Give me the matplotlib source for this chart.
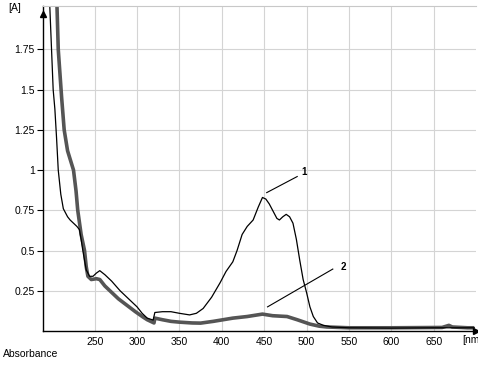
import matplotlib.pyplot as plt

# spectrum 1 (thin line)
wl1 = [192, 197, 201, 203, 205, 207, 210, 213, 218, 221, 225, 229, 232, 234, 236, 240, 244,
       248, 252, 256, 262, 270, 280, 290, 300, 306, 312, 319, 321, 330, 340, 350, 362, 370,
       378, 388, 398, 405, 413, 418, 424, 430, 437, 443, 448, 452, 456, 460, 465, 468, 472,
       476, 480, 484, 488, 492, 496, 500, 504, 508, 513, 520, 530, 550, 600, 650, 698]
abs1 = [2.4, 2.02, 1.5, 1.38, 1.2, 1.0, 0.85, 0.76, 0.71, 0.69, 0.67, 0.65, 0.63, 0.57, 0.5,
        0.38, 0.34, 0.34, 0.36, 0.375, 0.35, 0.31, 0.25, 0.2, 0.15, 0.11, 0.08, 0.068, 0.115,
        0.12, 0.12, 0.11, 0.1, 0.11, 0.14, 0.21, 0.3, 0.37, 0.43, 0.5, 0.6, 0.65, 0.69, 0.77,
        0.83, 0.82, 0.79, 0.75, 0.7, 0.69, 0.71, 0.725, 0.71, 0.67, 0.57, 0.44, 0.32, 0.24,
        0.15, 0.09, 0.05, 0.035, 0.025, 0.02, 0.018, 0.02, 0.02]

# spectrum 2 (thick line)
wl2 = [203, 205.5, 207, 209, 211, 214, 218, 225, 228, 230, 234, 238, 240, 242, 246, 252, 256,
       262, 268, 278, 288, 298, 307, 312, 318, 320, 321, 330, 340, 350, 365, 375, 390, 413,
       430, 448, 460, 477, 489, 504, 515, 524, 550, 600, 660, 668, 672, 690, 698]
abs2 = [2.6, 2.02, 1.75, 1.6, 1.45, 1.25, 1.12, 1.0, 0.87, 0.75, 0.6, 0.5, 0.4, 0.34, 0.32,
        0.325, 0.32, 0.28, 0.25, 0.2, 0.16, 0.12, 0.087, 0.07, 0.055, 0.05, 0.08, 0.07, 0.06,
        0.055, 0.05, 0.049, 0.06, 0.08, 0.09, 0.105, 0.095, 0.09, 0.07, 0.043, 0.03, 0.025,
        0.02, 0.02, 0.022, 0.035, 0.025, 0.02, 0.02]

xticks = [250, 300, 350, 400, 450, 500, 550, 600, 650]
yticks = [0.25, 0.5, 0.75, 1, 1.25, 1.5, 1.75]
ytick_labels = ['0.25', '0.5', '0.75', '1', '1.25', '1.5', '1.75']

# curve labels: text, text position, line start, line end
labels = ['1', '2']
label_pos = [(494, 0.99), (540, 0.40)]
line_start = [(489, 0.96), (531, 0.385)]
line_end = [(453, 0.86), (454, 0.15)]

plt.rcParams['font.family'] = ['Liberation Sans', 'DejaVu Sans']

fig = plt.figure(figsize=(4.78, 3.65), dpi=100)
ax = fig.add_axes([43 / 478, 34 / 365, 433 / 478, 325 / 365])

ax.plot(wl2, abs2, color='#555555', lw=2.6, solid_capstyle='butt')
ax.plot(wl1, abs1, color='black', lw=0.9)

for t, p, s, e in zip(labels, label_pos, line_start, line_end):
    ax.plot([s[0], e[0]], [s[1], e[1]], color='black', lw=0.8)
    ax.text(p[0], p[1], t, fontsize=7, fontweight='bold', ha='left', va='center')

ax.set_xlim(189, 700)
ax.set_ylim(0, 2.02)
ax.set_xticks(xticks)
ax.set_yticks(yticks)
ax.set_yticklabels(ytick_labels)
ax.grid(True, color='#d4d4d4', lw=0.8)
ax.set_axisbelow(True)

ax.tick_params(axis='y', length=4, width=0.8, pad=2, labelsize=7.5)
ax.tick_params(axis='x', length=0, pad=4.5, labelsize=7.5)

ax.spines['right'].set_visible(False)
ax.spines['top'].set_color('#c8c8c8')
ax.spines['left'].set_linewidth(1.0)
ax.spines['bottom'].set_linewidth(1.0)

# axis arrows
ax.plot(0, 0.975, marker='^', color='black', ms=4, transform=ax.transAxes, clip_on=False)
ax.plot(1, 0, marker='>', color='black', ms=4, transform=ax.transAxes, clip_on=False)

fig.text(8 / 478, 1 - 8 / 365, '[A]', fontsize=7.5, va='center', ha='left')
fig.text(3 / 478, 1 - 354 / 365, 'Absorbance', fontsize=7.5, va='center', ha='left')
fig.text(462 / 478, 1 - 340 / 365, '[nm', fontsize=7.5, va='center', ha='left')

fig.savefig('out.png', dpi=100)
